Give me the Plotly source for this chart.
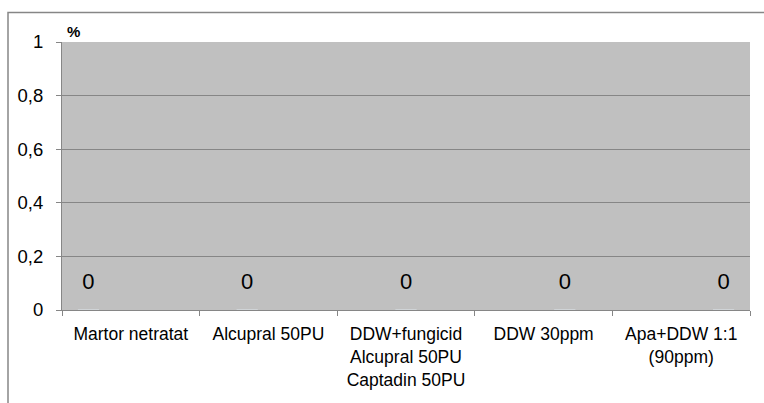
import plotly.graph_objects as go

categories = ["Martor netratat", "Alcupral 50PU",
              "DDW+fungicid<br>Alcupral 50PU<br>Captadin 50PU",
              "DDW 30ppm", "Apa+DDW 1:1<br>(90ppm)"]
values = [0, 0, 0, 0, 0]
y_ticks = [0, 0.2, 0.4, 0.6, 0.8, 1]
y_tick_labels = ["0", "0,2", "0,4", "0,6", "0,8", "1"]
y_unit = "%"

fig = go.Figure()
n = len(categories)
for i in range(n):
    ys = [values[i] if j == i else None for j in range(n)]
    fig.add_trace(go.Bar(
        x=categories, y=ys, name=categories[i], offsetgroup=str(i),
        alignmentgroup="g",
        marker=dict(color="#4f81bd"), showlegend=False, hoverinfo="skip",
    ))
    fig.add_trace(go.Scatter(
        x=categories, y=ys, name=categories[i], mode="markers+text",
        offsetgroup=str(i), alignmentgroup="g",
        text=[str(v).replace(".", ",") if v is not None else "" for v in ys],
        textposition="top center", cliponaxis=False,
        textfont=dict(size=22, color="#000000", family="Liberation Sans"),
        marker=dict(size=24, opacity=0), showlegend=False,
    ))

fig.update_layout(
    width=764, height=403,
    margin=dict(l=62, r=14, t=42, b=93),
    paper_bgcolor="white",
    plot_bgcolor="#c0c0c0",
    barmode="group",
    bargap=1.5 / 6.5, bargroupgap=0,
    scattermode="group", scattergap=1.5 / 6.5,
    separators=",.",
    font=dict(family="Liberation Sans", color="#000000"),
    xaxis=dict(
        type="category", tickson="boundaries", ticks="outside", ticklen=5,
        tickcolor="#868686", showline=True, linecolor="#868686", linewidth=1,
        showgrid=False, tickfont=dict(size=17.5), ticklabelstandoff=8,
        fixedrange=True,
    ),
    yaxis=dict(
        range=[0, 1], tickvals=y_ticks, ticktext=y_tick_labels,
        ticks="outside", ticklen=5, tickcolor="#868686",
        showline=True, linecolor="#868686", linewidth=1,
        showgrid=True, gridcolor="#868686", gridwidth=1,
        zeroline=False, tickfont=dict(size=18.5), ticklabelstandoff=9,
    ),
    shapes=[dict(type="rect", xref="paper", yref="paper",
                 x0=(8 - 62) / 688, x1=1.1, y0=-0.4, y1=(310 - 12.5) / 268,
                 line=dict(color="#868686", width=1.5), fillcolor="rgba(0,0,0,0)",
                 layer="below")],
    annotations=[dict(text="<b>" + y_unit + "</b>", xref="paper", yref="paper",
                      x=0.0, y=1.0, xanchor="left", yanchor="bottom", xshift=3,
                      showarrow=False, font=dict(size=15))],
)

fig.write_html("out.html")
